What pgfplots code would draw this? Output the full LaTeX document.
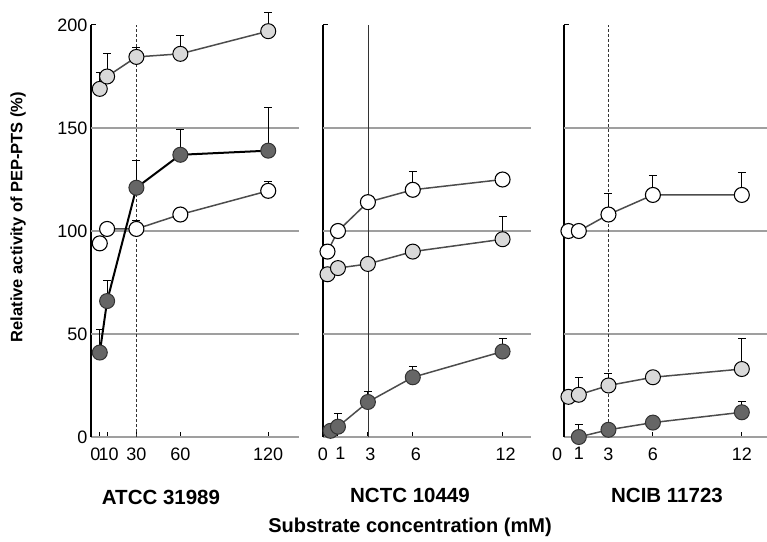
\documentclass[border=0pt]{standalone}
\usepackage{fontspec}
\setmainfont{Liberation Sans}
\usepackage{pgfplots}
\pgfplotsset{compat=1.18}

% left panel: ATCC 31989
\pgfplotstableread{
x y e
5 94 0
10 101 0
30 101 4
60 108 0
120 119.5 4.5
}\atccopen
\pgfplotstableread{
x y e
5 169 8
10 175 11
30 184.5 4.5
60 186 9
120 197 9
}\atcchatch
\pgfplotstableread{
x y e
5 41 11
10 66 10
30 121 13
60 137 12.5
120 139 21
}\atccdark
% middle panel: NCTC 10449
\pgfplotstableread{
x y e
0.3 90 0
1 100 2
3 114 0
6 120 9
12 125 0
}\nctcopen
\pgfplotstableread{
x y e
0.3 79 0
1 82 0
3 84 0
6 90 0
12 96 11
}\nctchatch
\pgfplotstableread{
x y e
0.5 3 0
1 5 6.5
3 17 5
6 29 5
12 41.5 6.5
}\nctcdark
% right panel: NCIB 11723
\pgfplotstableread{
x y e
0.3 100 0
1 100 0
3 108 10
6 117.5 9.5
12 117.5 11
}\ncibopen
\pgfplotstableread{
x y e
0.3 19.5 0
1 20.5 8.5
3 25 6
6 29 0
12 33 15
}\ncibhatch
\pgfplotstableread{
x y e
1 0 6
3 3.5 0
6 7 0
12 12 5
}\ncibdark

\pgfplotsset{
  panel/.style={
    scale only axis, height=412pt,
    ymin=0, ymax=200, clip=false,
    axis x line*=bottom, axis y line*=left,
    x axis line style={gray!75, line width=2pt, -},
    y axis line style={black, line width=1.4pt, -},
    tick align=inside, major tick length=5pt,
    tick style={black, line width=1pt},
    ytick={200}, yticklabels={},
    xticklabel style={font=\fontsize{18}{20}\selectfont, yshift=-7pt},
    yticklabel style={font=\fontsize{18}{20}\selectfont},
    /pgf/number format/assume math mode=true,
  },
  hgrid/.style={gray!75, line width=2pt, forget plot},
  vline/.style={black!80, line width=0.7pt, densely dashed, forget plot},
  ser/.style={line width=1.5pt, black!70, mark=*, mark size=7.5pt,
    error bars/y dir=plus, error bars/y explicit,
    error bars/error mark options={rotate=90, black, mark size=4pt, line width=1pt},
    error bars/error bar style={black, line width=1pt}},
  open/.style={ser, mark options={fill=white, draw=black, line width=1.1pt, solid}},
  hatch/.style={ser, mark options={fill=gray!30, draw=black, line width=1pt, solid}},
  dark/.style={ser, mark options={fill=black!60, draw=black!80, line width=1pt, solid}},
}

\begin{document}
\begin{tikzpicture}[x=1pt,y=1pt]
\path[use as bounding box] (0pt,0pt) rectangle (767pt,541pt);

\begin{axis}[panel, at={(91pt,104pt)}, anchor=south west, width=208pt,
  xmin=-1, xmax=141,
  xtick={5,10,30,60,120}, xticklabels={\hspace{-9pt}0,\hspace{3pt}10,30,60,120},
  ytick={0,50,100,150,200}, yticklabels={0,50,100,150,200}]
  \addplot[hgrid] coordinates {(-1,50) (141,50)};
  \addplot[hgrid] coordinates {(-1,100) (141,100)};
  \addplot[hgrid] coordinates {(-1,150) (141,150)};
  \addplot[vline] coordinates {(30,0) (30,200)};
  \addplot[open] table[x=x, y=y, y error=e] {\atccopen};
  \addplot[hatch] table[x=x, y=y, y error=e] {\atcchatch};
  \addplot[dark, black, line width=2pt] table[x=x, y=y, y error=e] {\atccdark};
\end{axis}

\begin{axis}[panel, at={(323pt,104pt)}, anchor=south west, width=208pt,
  xmin=0, xmax=13.9,
  xtick={0,1,3,6,12}, xticklabels={0,\hspace{5pt}1,\hspace{5pt}3,\hspace{6pt}6,\hspace{6pt}12}]
  \addplot[hgrid] coordinates {(0,50) (13.9,50)};
  \addplot[hgrid] coordinates {(0,100) (13.9,100)};
  \addplot[hgrid] coordinates {(0,150) (13.9,150)};
  \addplot[vline, solid, line width=0.6pt] coordinates {(3,0) (3,200)};
  \addplot[open] table[x=x, y=y, y error=e] {\nctcopen};
  \addplot[hatch] table[x=x, y=y, y error=e] {\nctchatch};
  \addplot[dark] table[x=x, y=y, y error=e] {\nctcdark};
\end{axis}

\begin{axis}[panel, at={(564pt,104pt)}, anchor=south west, width=203pt,
  xmin=0, xmax=13.7,
  xtick={0,1,3,6,12}, xticklabels={\hspace{-14pt}0,1,3,6,12}]
  \addplot[hgrid] coordinates {(0,50) (13.7,50)};
  \addplot[hgrid] coordinates {(0,100) (13.7,100)};
  \addplot[hgrid] coordinates {(0,150) (13.7,150)};
  \addplot[vline] coordinates {(3,0) (3,200)};
  \addplot[open] table[x=x, y=y, y error=e] {\ncibopen};
  \addplot[hatch] table[x=x, y=y, y error=e] {\ncibhatch};
  \addplot[dark] table[x=x, y=y, y error=e] {\ncibdark};
\end{axis}

\node[rotate=90, font=\bfseries\fontsize{16.5}{18}\selectfont] at (18pt,324pt) {Relative activity of PEP-PTS (\%)};
\node[font=\bfseries\fontsize{20.5}{22}\selectfont] at (161pt,44pt) {ATCC 31989};
\node[font=\bfseries\fontsize{20.5}{22}\selectfont] at (410pt,46pt) {NCTC 10449};
\node[font=\bfseries\fontsize{20.5}{22}\selectfont] at (667pt,46pt) {NCIB 11723};
\node[font=\bfseries\fontsize{20}{22}\selectfont] at (410pt,14pt) {Substrate concentration (mM)};
\end{tikzpicture}
\end{document}
